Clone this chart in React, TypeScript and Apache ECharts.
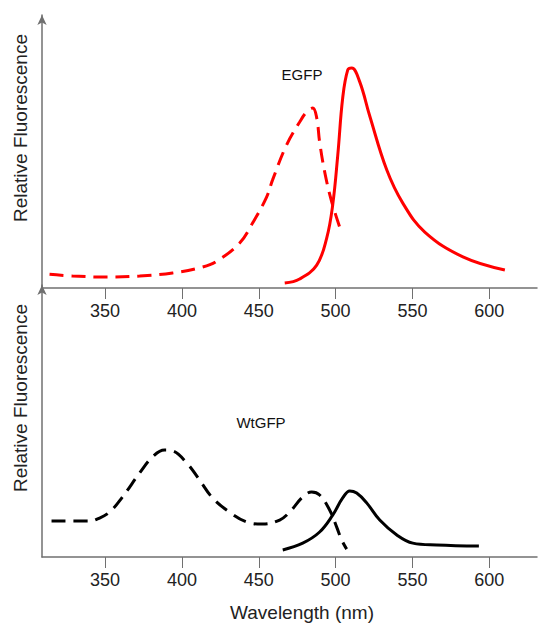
import React, { useEffect, useRef } from "react";
import * as echarts from "echarts";

const tickValues = [350, 400, 450, 500, 550, 600];

const egfpExcitation: [number, number][] = [
  [313.9, 5.0], [328.8, 4.4], [351.0, 4.0], [372.5, 4.4], [393.9, 5.5],
  [413.5, 7.7], [422.6, 9.8], [437.6, 16.5], [446.0, 23.8], [455.1, 33.3],
  [459.0, 39.6], [468.1, 52.4], [476.6, 60.8], [481.2, 64.5], [485.1, 65.9],
  [487.7, 62.3], [489.6, 53.5], [492.9, 42.5], [497.5, 31.5], [504.0, 20.1],
];

const egfpEmission: [number, number][] = [
  [466.9, 1.8], [476.6, 3.3], [487.7, 8.4], [494.2, 18.3], [498.1, 30.4],
  [501.4, 48.7], [504.6, 69.6], [507.9, 79.9], [510.5, 80.6], [515.7, 75.5],
  [522.2, 63.0], [533.3, 43.2], [543.7, 31.1], [558.0, 20.5], [582.8, 11.4],
  [610.1, 6.6],
];

const wtExcitation: [number, number][] = [
  [315.2, 13.2], [339.9, 13.2], [345.1, 14.0], [352.9, 16.5], [361.4, 22.1],
  [372.5, 30.9], [380.9, 36.8], [388.7, 39.3], [393.9, 39.0], [403.1, 34.6],
  [411.5, 28.3], [420.0, 21.7], [431.0, 16.5], [442.1, 12.9], [452.5, 12.1],
  [463.6, 13.6], [470.1, 16.5], [478.6, 22.1], [484.4, 23.9], [489.6, 22.8],
  [496.1, 17.3], [500.7, 11.0], [503.9, 6.3], [507.2, 2.9],
];

const wtEmission: [number, number][] = [
  [465.6, 2.6], [478.6, 5.1], [489.6, 9.2], [498.1, 15.4], [504.6, 21.7],
  [509.2, 24.3], [513.7, 23.5], [520.2, 19.9], [528.7, 13.6], [539.8, 8.1],
  [550.2, 5.1], [565.8, 4.4], [593.2, 4.0],
];

const FONT = "Liberation Sans, Arial, sans-serif";
const AXIS_COLOR = "#707070";

export default function App() {
  const ref = useRef<HTMLDivElement>(null);

  useEffect(() => {
    document.body.style.margin = "0";
    if (!ref.current) return;
    const chart = echarts.init(ref.current, undefined, { renderer: "svg" });

    const xAxisBase = (gridIndex: number) => ({
      type: "value" as const,
      gridIndex,
      min: 309,
      max: 631,
      axisLine: { show: true, onZero: false, lineStyle: { color: AXIS_COLOR, width: 1.5 } },
      axisTick: { show: true, customValues: tickValues, length: 11, lineStyle: { color: AXIS_COLOR, width: 1 } },
      axisLabel: { customValues: tickValues, margin: 14, fontSize: 18, color: "#222", fontFamily: FONT },
      splitLine: { show: false },
    });

    const yAxisBase = (gridIndex: number) => ({
      type: "value" as const,
      gridIndex,
      min: 0,
      max: 100,
      axisLine: {
        show: true,
        onZero: false,
        symbol: ["none", "arrow"],
        symbolSize: [7, 10],
        lineStyle: { color: AXIS_COLOR, width: 1.5 },
      },
      axisTick: { show: false },
      axisLabel: { show: false },
      splitLine: { show: false },
    });

    const lineSeries = (
      data: [number, number][],
      idx: number,
      color: string,
      dashed: boolean
    ) => ({
      type: "line" as const,
      xAxisIndex: idx,
      yAxisIndex: idx,
      data,
      smooth: 0.4,
      showSymbol: false,
      lineStyle: { color, width: 3, type: dashed ? [14, 8] : "solid" },
    });

    chart.setOption({
      animation: false,
      grid: [
        { left: 42, right: 1, top: 15, height: 273 },
        { left: 42, right: 1, top: 285, height: 272 },
      ],
      xAxis: [xAxisBase(0), xAxisBase(1)],
      yAxis: [yAxisBase(0), yAxisBase(1)],
      series: [
        lineSeries(egfpExcitation, 0, "#ff0000", true),
        lineSeries(egfpEmission, 0, "#ff0000", false),
        lineSeries(wtExcitation, 1, "#000000", true),
        lineSeries(wtEmission, 1, "#000000", false),
      ],
      graphic: [
        {
          type: "text",
          x: 20,
          y: 128,
          rotation: Math.PI / 2,
          style: { text: "Relative Fluorescence", fontSize: 19, fontFamily: FONT, fill: "#222", align: "center", verticalAlign: "middle" },
        },
        {
          type: "text",
          x: 20,
          y: 398,
          rotation: Math.PI / 2,
          style: { text: "Relative Fluorescence", fontSize: 19, fontFamily: FONT, fill: "#222", align: "center", verticalAlign: "middle" },
        },
        {
          type: "text",
          x: 302,
          y: 612,
          style: { text: "Wavelength (nm)", fontSize: 19, fontFamily: FONT, fill: "#222", align: "center", verticalAlign: "middle" },
        },
        {
          type: "text",
          x: 302,
          y: 74,
          style: { text: "EGFP", fontSize: 15, fontFamily: FONT, fill: "#111", align: "center", verticalAlign: "middle" },
        },
        {
          type: "text",
          x: 261,
          y: 422,
          style: { text: "WtGFP", fontSize: 15, fontFamily: FONT, fill: "#111", align: "center", verticalAlign: "middle" },
        },
      ],
    });

    return () => chart.dispose();
  }, []);

  return <div ref={ref} style={{ width: 538, height: 623 }} />;
}
